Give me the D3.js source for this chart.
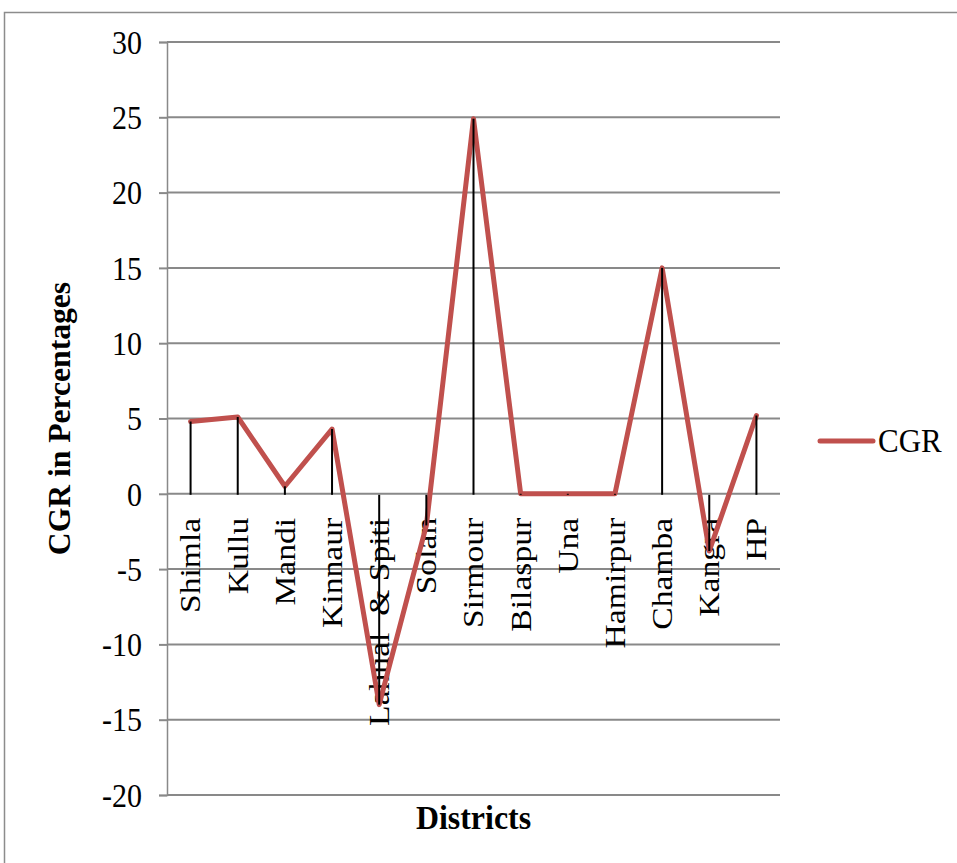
<!DOCTYPE html>
<html>
<head>
<meta charset="utf-8">
<script src="https://cdn.jsdelivr.net/npm/d3@7"></script>
<style>
  html, body { margin: 0; padding: 0; background: #fff; }
  svg { display: block; }
  text { font-family: "Liberation Serif", "Times New Roman", serif; fill: #000; }
</style>
</head>
<body>
<script>
// Compound growth rate by district
const districts = ["Shimla", "Kullu", "Mandi", "Kinnaur", "Lahual  & Spiti", "Solan", "Sirmour",
  "Bilaspur", "Una", "Hamirpur", "Chamba", "Kangra", "HP"];
const cgr = [4.8, 5.1, 0.5, 4.3, -14.0, -2.1, 24.9, 0, 0, 0, 15.0, -3.8, 5.2];
const yTicks = [30, 25, 20, 15, 10, 5, 0, -5, -10, -15, -20];
const seriesName = "CGR";

const W = 957, H = 863;
const plot = { left: 167, right: 780, top: 42, bottom: 795 };
const lineColor = "#C0504D";
const gridColor = "#898989";
const serif = "'Liberation Serif', 'Times New Roman', serif";
const stretch = 1.12; // glyphs are drawn a little tall

const svg = d3.select("body").append("svg").attr("width", W).attr("height", H)
  .attr("font-family", serif);

// chart frame
svg.append("rect")
  .attr("x", 4.5).attr("y", 12.5)
  .attr("width", W + 10).attr("height", H + 10)
  .attr("fill", "none").attr("stroke", "#8c8c8c").attr("stroke-width", 1.5);

const x = d3.scaleBand().domain(districts).range([plot.left, plot.right]);
const y = d3.scaleLinear().domain([-20, 30]).range([plot.bottom, plot.top]);

// value axis with gridlines
const yAxis = d3.axisLeft(y).tickValues(yTicks).tickSize(8).tickPadding(0).tickFormat(d => String(d));
const gy = svg.append("g").attr("transform", `translate(${plot.left},0)`).call(yAxis)
  .attr("font-family", serif).attr("font-size", 30);
gy.select(".domain").attr("stroke", gridColor).attr("stroke-width", 1.5);
gy.selectAll(".tick line").attr("stroke", gridColor).attr("stroke-width", 2);
gy.selectAll(".tick text")
  .attr("x", null).attr("dy", null)
  .attr("transform", `translate(-25,0) scale(1,${stretch}) translate(0,10)`);

svg.append("g").selectAll("line.grid").data(yTicks).join("line")
  .attr("x1", plot.left).attr("x2", plot.right)
  .attr("y1", d => y(d)).attr("y2", d => y(d))
  .attr("stroke", gridColor).attr("stroke-width", 2);

// category labels sit just below the zero line, rotated
const cx = d => x(d) + x.bandwidth() / 2;
svg.append("g").selectAll("text.cat").data(districts).join("text")
  .attr("transform", d => `translate(${cx(d)},${y(0) + 24}) rotate(-90) scale(${stretch},1)`)
  .attr("text-anchor", "end")
  .attr("dy", "0.33em")
  .attr("font-size", 30)
  .style("white-space", "pre")
  .text(d => d);

// series line
const pts = districts.map((d, i) => ({ d, v: cgr[i] }));
const line = d3.line().x(p => cx(p.d)).y(p => y(p.v));
svg.append("path").datum(pts)
  .attr("d", line)
  .attr("fill", "none")
  .attr("stroke", lineColor)
  .attr("stroke-width", 5)
  .attr("stroke-linejoin", "round")
  .attr("stroke-linecap", "round");

// drop lines from each point to the category axis
svg.append("g").selectAll("line.drop").data(pts).join("line")
  .attr("x1", p => cx(p.d)).attr("x2", p => cx(p.d))
  .attr("y1", p => y(p.v)).attr("y2", y(0) + 1)
  .attr("stroke", "#000").attr("stroke-width", 2);

// axis titles
svg.append("text")
  .attr("transform", `translate(60,${(plot.top + plot.bottom) / 2}) rotate(-90) scale(1.02,1)`)
  .attr("text-anchor", "middle").attr("dy", "0.33em")
  .attr("font-size", 31).attr("font-weight", "bold")
  .text("CGR in Percentages");

svg.append("text")
  .attr("transform", `translate(${(plot.left + plot.right) / 2},829) scale(1.03,${stretch})`)
  .attr("text-anchor", "middle")
  .attr("font-size", 31).attr("font-weight", "bold")
  .text("Districts");

// legend
const lg = svg.append("g").attr("transform", "translate(820,441)");
lg.append("line").attr("x1", 0).attr("x2", 53).attr("y1", 0).attr("y2", 0)
  .attr("stroke", lineColor).attr("stroke-width", 5).attr("stroke-linecap", "round");
lg.append("text").attr("transform", `translate(58,11) scale(1,${stretch})`)
  .attr("font-size", 31).text(seriesName);
</script>
</body>
</html>
